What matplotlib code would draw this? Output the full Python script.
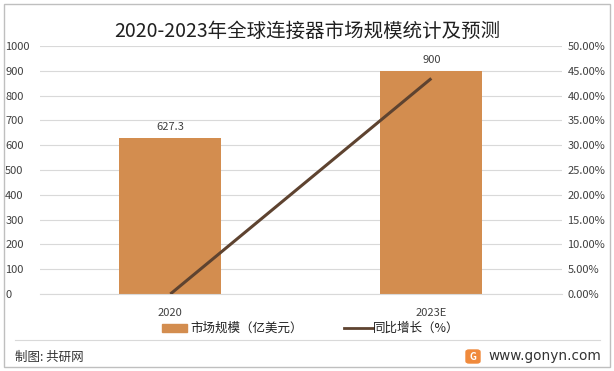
import matplotlib
matplotlib.use("Agg")
import matplotlib.pyplot as plt
from matplotlib.patches import Rectangle, FancyBboxPatch
from matplotlib.lines import Line2D
import matplotlib.ticker as mticker

plt.rcParams['font.family'] = ['Noto Sans CJK SC', 'DejaVu Sans']

categories = ['2020', '2023E']
market_size = [627.3, 900]
growth = [0.0, 43.47]
left_ticks = [0, 100, 200, 300, 400, 500, 600, 700, 800, 900, 1000]
right_ticks = [0, 5, 10, 15, 20, 25, 30, 35, 40, 45, 50]

bar_color = '#D38D4F'
line_color = '#5E4330'
grid_color = '#D9D9D9'
text_color = '#404040'

W, H = 614, 371
fig = plt.figure(figsize=(6.14, 3.71), dpi=100)
fig.patch.set_facecolor('white')

ax = fig.add_axes([0.065, 0.2075, 0.85, 0.6685])
x = list(range(len(categories)))
ax.bar(x, market_size, width=0.39, color=bar_color, zorder=2)
ax.set_xlim(-0.5, len(categories) - 0.5)
ax.set_ylim(0, 1000)
ax.set_yticks(left_ticks)
ax.yaxis.grid(True, color=grid_color, linewidth=0.8, zorder=0)
ax.set_axisbelow(True)
for s in ax.spines.values():
    s.set_visible(False)
ax.spines['bottom'].set_visible(True)
ax.spines['bottom'].set_color(grid_color)
ax.tick_params(axis='both', length=0, labelsize=8, colors=text_color)
ax.tick_params(axis='x', pad=10)
ax.set_xticks(x)
ax.set_xticklabels(categories)
for l in ax.get_yticklabels():
    l.set_horizontalalignment('left')
ax.yaxis.set_tick_params(pad=25)

for xi, v in zip(x, market_size):
    ax.text(xi, v + 25, f'{v:g}', ha='center', va='bottom', fontsize=8, color=text_color)

ax2 = ax.twinx()
ax2.plot(x, growth, color=line_color, linewidth=2.2, zorder=3, solid_capstyle='butt')
ax2.set_ylim(0, 50)
ax2.set_yticks(right_ticks)
ax2.yaxis.set_major_formatter(mticker.FuncFormatter(lambda v, p: f'{v:.2f}%'))
for s in ax2.spines.values():
    s.set_visible(False)
ax2.tick_params(axis='y', length=0, labelsize=8, colors=text_color, pad=4)

fig.text(0.5, 0.915, '2020-2023年全球连接器市场规模统计及预测', ha='center', va='center',
         fontsize=14, color='#202020')

def fx(px):
    return px / W

def fy(py):
    return 1 - py / H

# legend
fig.patches.append(Rectangle((fx(162), fy(332)), 25 / W, 8 / H, transform=fig.transFigure,
                             color=bar_color))
fig.text(fx(190), fy(328), '市场规模（亿美元）', ha='left', va='center', fontsize=9, color='#202020')
fig.lines.append(Line2D([fx(344), fx(373)], [fy(328), fy(328)], transform=fig.transFigure,
                        color=line_color, linewidth=2))
fig.text(fx(373), fy(328), '同比增长（%）', ha='left', va='center', fontsize=9, color='#202020')

# footer
fig.lines.append(Line2D([fx(15), fx(600)], [fy(340), fy(340)], transform=fig.transFigure,
                        color='#D9D9D9', linewidth=0.8))
fig.text(fx(15), fy(357), '制图: 共研网', ha='left', va='center', fontsize=9, color='#333333')
fig.patches.append(FancyBboxPatch((fx(466), fy(363)), 14 / W, 13 / H, transform=fig.transFigure,
                                  boxstyle='round,pad=0.0,rounding_size=0.005', color='#F08A3C'))
fig.text(fx(473), fy(356.5), 'G', ha='center', va='center', fontsize=7, color='white', weight='bold')
fig.text(fx(488), fy(356), 'www.gonyn.com', ha='left', va='center', fontsize=9.8,
         color='#333333', family=['DejaVu Sans'])

# border
fig.patches.append(Rectangle((fx(4), fy(367)), 606 / W, 363 / H, transform=fig.transFigure,
                             fill=False, edgecolor='#BFBFBF', linewidth=1))

fig.savefig('out.png', dpi=100)
